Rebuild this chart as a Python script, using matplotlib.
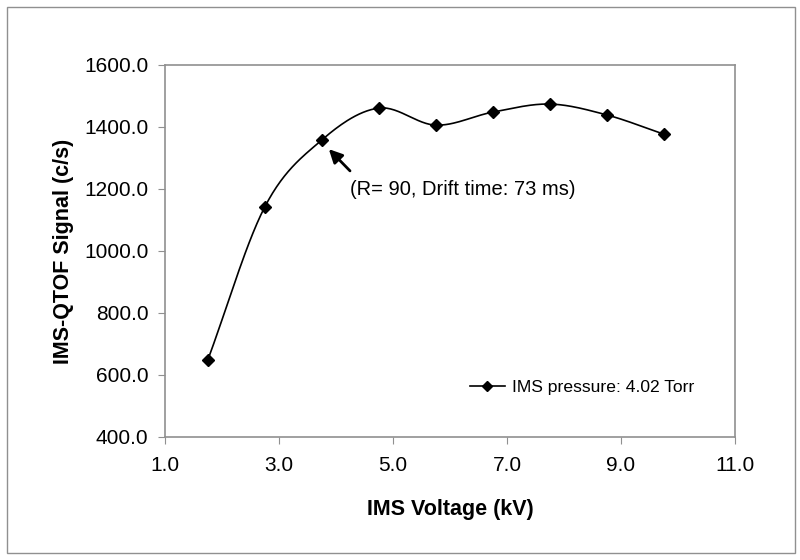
import numpy as np
import matplotlib
matplotlib.use("Agg")
import matplotlib.pyplot as plt
from matplotlib.patches import Rectangle

plt.rcParams['font.family'] = ['Liberation Sans', 'DejaVu Sans']

voltage = [1.75, 2.75, 3.75, 4.75, 5.75, 6.75, 7.75, 8.75, 9.75]
signal = [648, 1142, 1358, 1461, 1406, 1448, 1474, 1439, 1377]
series_label = "IMS pressure: 4.02 Torr"
annot_text = "(R= 90, Drift time: 73 ms)"
annot_index = 2


def smooth(xs, ys, n=30):
    # Excel-style smoothed line (Catmull-Rom spline through the points)
    xs = np.asarray(xs, float); ys = np.asarray(ys, float)
    px = np.concatenate([[2*xs[0]-xs[1]], xs, [2*xs[-1]-xs[-2]]])
    py = np.concatenate([[2*ys[0]-ys[1]], ys, [2*ys[-1]-ys[-2]]])
    ox, oy = [], []
    t = np.linspace(0, 1, n)
    for i in range(1, len(px)-2):
        for P, out in ((px, ox), (py, oy)):
            p0, p1, p2, p3 = P[i-1], P[i], P[i+1], P[i+2]
            out.extend(0.5*((2*p1) + (-p0+p2)*t + (2*p0-5*p1+4*p2-p3)*t**2 + (-p0+3*p1-3*p2+p3)*t**3))
    return np.array(ox), np.array(oy)


fig = plt.figure(figsize=(8, 5.6), dpi=100)
fig.patches.append(Rectangle((7/800, 7/560), 788/800, 546/560, transform=fig.transFigure,
                             fill=False, edgecolor='#909090', linewidth=1))
ax = fig.add_axes([165/800, 1-437/560, 570/800, 372/560])

sx, sy = smooth(voltage, signal)
ax.plot(sx, sy, color='black', linewidth=1.2)
ax.plot(voltage, signal, linestyle='none', marker='D', markersize=6, color='black')
ax.plot([], [], color='black', marker='D', markersize=5, linewidth=1.2, label=series_label)

ax.set_xlim(1.0, 11.0)
ax.set_ylim(400, 1600)
ax.set_xticks(np.arange(1.0, 11.01, 2.0))
ax.set_yticks(np.arange(400, 1601, 200))
ax.xaxis.set_major_formatter(matplotlib.ticker.FormatStrFormatter('%.1f'))
ax.yaxis.set_major_formatter(matplotlib.ticker.FormatStrFormatter('%.1f'))
for s in ax.spines.values():
    s.set_color('#909090')
    s.set_linewidth(1.2)
ax.tick_params(direction='out', length=5, color='#909090', labelsize=15)
ax.tick_params(axis='y', pad=7)
ax.tick_params(axis='x', pad=9)

ax.set_xlabel('IMS Voltage (kV)', fontsize=15.5, fontweight='bold', labelpad=17)
ax.set_ylabel('IMS-QTOF Signal (c/s)', fontsize=15.5, fontweight='bold', labelpad=7)

ax.annotate('', xy=(3.84, 1335), xytext=(4.28, 1252),
            arrowprops=dict(arrowstyle='-|>', color='black', lw=2, mutation_scale=20))
ax.text(4.25, 1197, annot_text, fontsize=14.5, ha='left', va='center')

ax.legend(loc='center left', bbox_to_anchor=(0.535, 0.134), frameon=False, fontsize=12.6,
          handlelength=2.0, handletextpad=0.4, borderaxespad=0, borderpad=0)

fig.savefig('out.png', dpi=100)
